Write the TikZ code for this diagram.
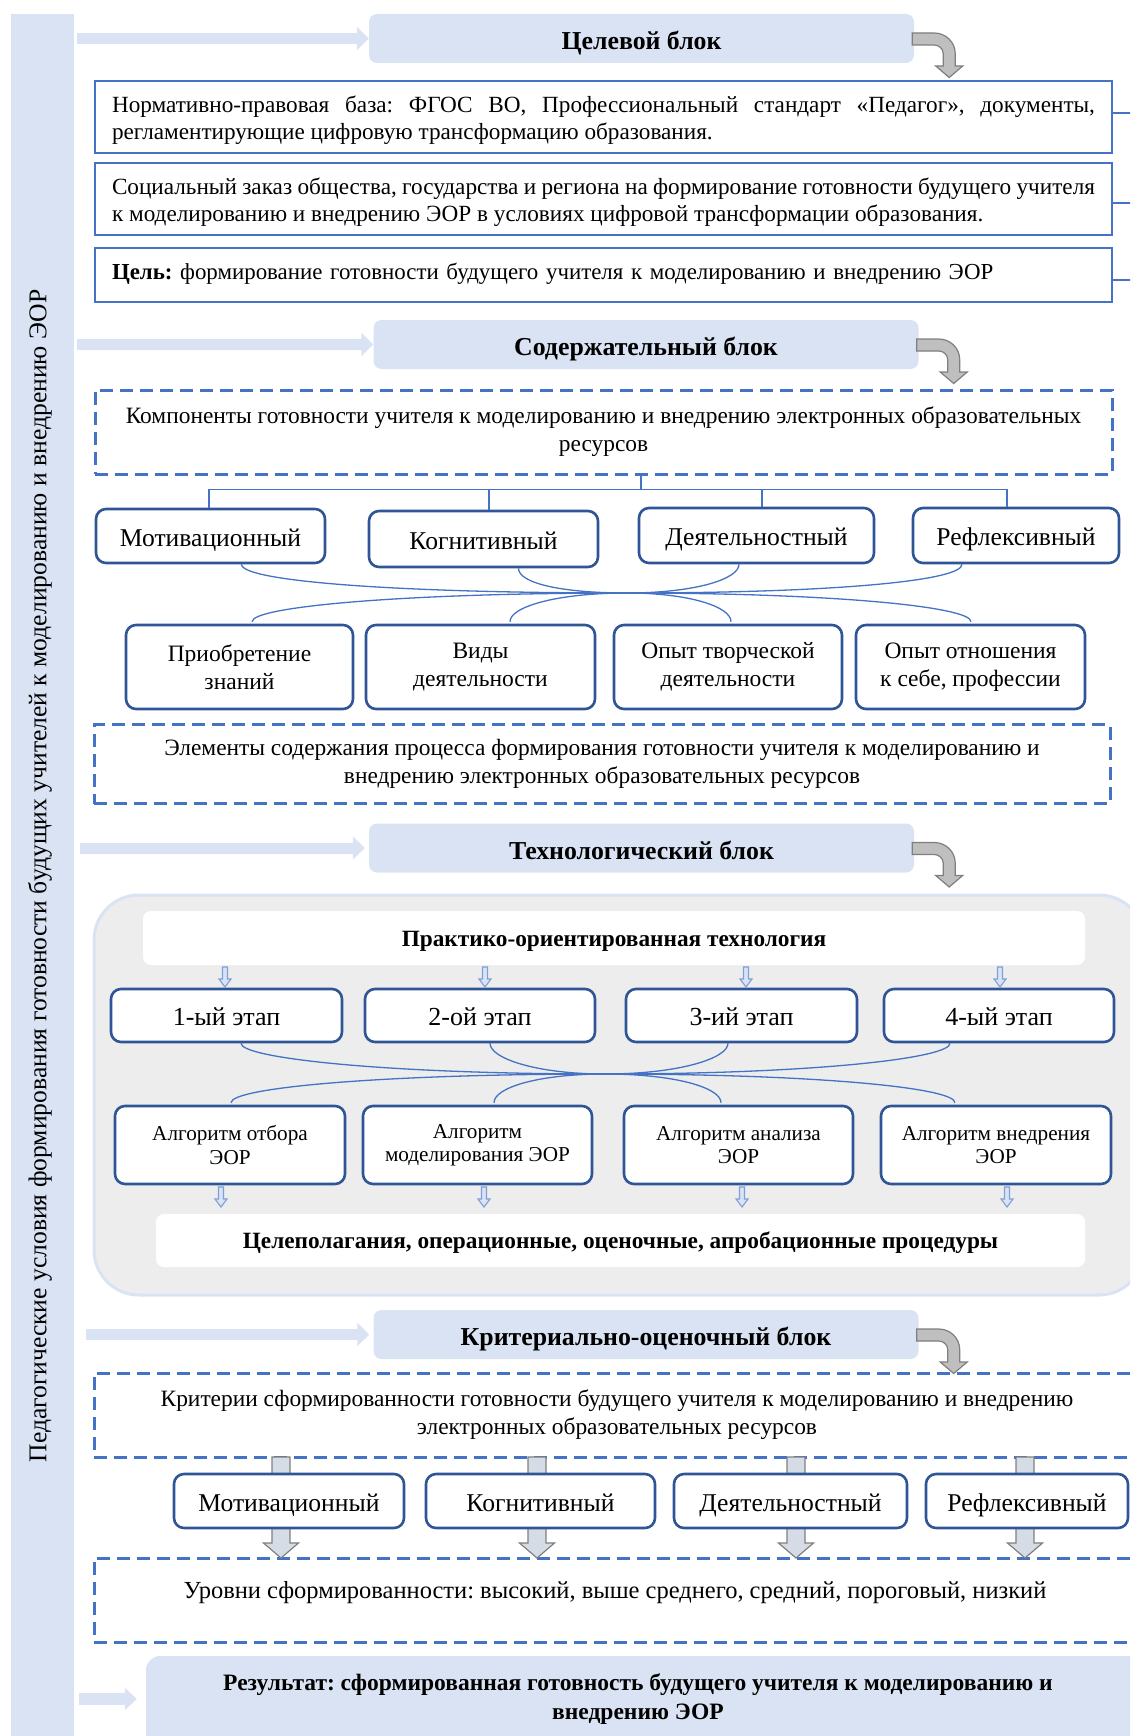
\documentclass[tikz,border=0pt]{standalone}
\usepackage{fontspec}
\setmainfont{Liberation Serif}
\usetikzlibrary{arrows.meta,calc}
\definecolor{pale}{HTML}{DAE3F3}
\definecolor{bord}{HTML}{4472C4}
\definecolor{dblue}{HTML}{2F5597}
\definecolor{panelbg}{HTML}{EDEDED}
\definecolor{garrow}{HTML}{BFBFBF}
\definecolor{garrowline}{HTML}{7F7F7F}
\definecolor{sarrow}{HTML}{7F9FD8}
\definecolor{barrowfill}{HTML}{D6DCE5}
\newcommand\fsz[2]{\fontsize{#1}{#2}\selectfont}
\newcommand\tightsp{\spaceskip=0.25em plus 0.15em minus 0.12em\relax}
\frenchspacing
\tikzset{
  garr/.pic={\filldraw[fill=garrow, draw=garrowline, line width=1.2pt]
     (-2,-5.5) -- (20,-5.5) .. controls (31.6,-5.5) and (41,3.7) .. (41,15) -- (41,27.5) -- (48.5,27.5) -- (35,39)
     -- (21.5,27.5) -- (29,27.5) -- (29,15) .. controls (29,10.3) and (24.7,6.5) .. (20,6.5) -- (-2,6.5) -- cycle;},
  sarr/.pic={\filldraw[fill=pale, draw=sarrow, line width=1.1pt]
     (-2.5,0) -- (2.5,0) -- (2.5,12) -- (6,12) -- (0,20) -- (-6,12) -- (-2.5,12) -- cycle;},
  barr/.pic={\filldraw[fill=barrowfill, draw=garrowline, line width=1.2pt]
     (-9,0) -- (9,0) -- (9,86) -- (17.5,86) -- (0,101) -- (-17.5,86) -- (-9,86) -- cycle;}
}
\begin{document}
\begin{tikzpicture}[x=1pt,y=-1pt,
  hdr/.style={fill=pale, rounded corners=8pt, minimum width=545pt, minimum height=49pt, inner sep=0pt, text height=22pt, text depth=0pt, font=\fsz{25.8}{30}\bfseries},
  thinbox/.style={draw=bord, line width=1.5pt, fill=white, minimum width=1017pt, inner sep=0pt},
  thintext/.style={text width=983pt, inner sep=0pt, align=justify, font=\fsz{23.2}{27}},
  dbox/.style={draw=bord, line width=3pt, dash pattern=on 13pt off 7pt, inner sep=0pt, align=center, font=\fsz{23.4}{28}},
  rbox/.style={draw=dblue, line width=2.6pt, fill=white, rounded corners=10pt, inner sep=0pt, align=center},
  one/.style={font=\fsz{25.6}{30}, text height=20pt, text depth=0pt},
  wbox/.style={fill=white, rounded corners=8pt, inner sep=0pt, text height=16pt, text depth=0pt, font=\fsz{23.3}{27}\bfseries},
  curve/.style={draw=bord, line width=1.3pt},
  tree/.style={draw=bord, line width=1.6pt},
  inarrow/.style={line width=11pt, draw=pale, -{Triangle[length=12pt,width=23pt]}},
]
\useasboundingbox (0,0) rectangle (1130,1736);
\clip (0,0) rectangle (1130,1736);

% left bar
\node[fill=pale, minimum width=63pt, minimum height=1730pt, inner sep=0pt] (bar) at (42.5,879) {};
\node[rotate=90, font=\fsz{25.6}{30}] (bartext) at (40,876) {Педагогические условия формирования готовности будущих учителей к моделированию и внедрению ЭОР};

% headers
\node[hdr] (h1) at (641.5,38.5) {Целевой блок};
\node[hdr] (h2) at (646,344.5) {Содержательный блок};
\node[hdr] (h3) at (641.5,848) {Технологический блок};
\node[hdr] (h4) at (646,1334.5) {Критериально-оценочный блок};

% arrows from bar
\draw[inarrow] ([xshift=3pt]bar.east |- h1.west) -- (h1.west);
\draw[inarrow] ([xshift=3pt]bar.east |- h2.west) -- (h2.west);
\draw[inarrow] ([xshift=6pt]bar.east |- h3.west) -- ([xshift=-4pt]h3.west);
\draw[inarrow] ([xshift=12pt]bar.east |- h4.west) -- ([xshift=-4pt]h4.west);

\pic at (h1.east) {garr};
\pic at (h2.east) {garr};
\pic at (h3.east) {garr};
\pic at (h4.east) {garr};

% target block
\node[thinbox, minimum height=72pt] (b1) at (603.5,117) {};
\node[thintext] (b1t) at (603.5,120) {\tightsp Нормативно-правовая база: ФГОС ВО, Профессиональный стандарт «Педагог», документы,\linebreak регламентирующие цифровую трансформацию образования.};
\node[thinbox, minimum height=72pt] (b2) at (603.5,199) {};
\node[thintext] (b2t) at (603.5,202) {\tightsp Социальный заказ общества, государства и региона на формирование готовности будущего учителя\linebreak к моделированию и внедрению ЭОР в условиях цифровой трансформации образования.};
\node[thinbox, minimum height=54pt] (b3) at (603.5,275) {};
\node[thintext, align=left, font=\fsz{22.9}{27}] (b3t) at (603.5,274) {\textbf{Цель:} формирование готовности будущего учителя к моделированию и внедрению ЭОР};
\draw[bord, line width=1.5pt] ([yshift=4pt]b1.east) -- ++(25,0);
\draw[bord, line width=1.5pt] ([yshift=-4pt]b2.east) -- ++(25,0);
\draw[bord, line width=1.5pt] ([yshift=-5pt]b3.east) -- ++(25,0);

% content block
\node[dbox, minimum width=1017pt, minimum height=84pt] (d1) at (603.5,432) {Компоненты готовности учителя к моделированию и внедрению электронных образовательных\\ресурсов};
\node[rbox, one, minimum width=229pt, minimum height=54pt] (m1) at (210.5,536) {Мотивационный};
\node[rbox, one, minimum width=229pt, minimum height=56pt] (k1) at (483.5,539) {Когнитивный};
\node[rbox, one, minimum width=235pt, minimum height=55pt] (e1) at (756.5,535.5) {Деятельностный};
\node[rbox, one, minimum width=206pt, minimum height=55pt] (r1) at (1016,535.5) {Рефлексивный};

\coordinate (tj) at ($(d1.south)+(37.5,14)$);
\draw[tree] ($(d1.south)+(37.5,0)$) -- (tj);
\draw[tree] ([xshift=-1.5pt]m1.north) |- (tj) -| ([xshift=-9pt]r1.north);
\draw[tree] ([xshift=5.5pt]k1.north) -- ([xshift=5.5pt]k1.north |- tj);
\draw[tree] ([xshift=5.5pt]e1.north) -- ([xshift=5.5pt]e1.north |- tj);

\node[rbox, minimum width=227pt, minimum height=84pt, font=\fsz{23.5}{28}] (p1) at (239.5,667) {Приобретение\\знаний};
\node[rbox, minimum width=229pt, minimum height=84pt, font=\fsz{23.5}{28}] (p2) at (480.5,667) {Виды\\деятельности};
\node[rbox, minimum width=228pt, minimum height=84pt, font=\fsz{23.5}{28}] (p3) at (728,667) {Опыт творческой\\деятельности};
\node[rbox, minimum width=229pt, minimum height=84pt, font=\fsz{23.5}{28}] (p4) at (970.5,667) {Опыт отношения\\к себе, профессии};

\coordinate (cc1) at (627,593);
\draw[curve] ([xshift=31pt]m1.south) .. controls +(0,17) and +(-231,0) .. (cc1);
\draw[curve] ([xshift=35pt]k1.south) .. controls +(0,15) and +(-65,0) .. (cc1);
\draw[curve] ([xshift=-17.5pt]e1.south) .. controls +(0,15) and +(67,0) .. (cc1);
\draw[curve] ([xshift=-54pt]r1.south) .. controls +(0,17) and +(201,0) .. (cc1);
\draw[curve] (cc1) .. controls +(-225,0) and +(0,-15) .. ([xshift=12.5pt, yshift=2pt]p1.north);
\draw[curve] (cc1) .. controls +(-70,0) and +(0,-15) .. ([xshift=29.5pt, yshift=2pt]p2.north);
\draw[curve] (cc1) .. controls +(62,0) and +(0,-15) .. ([xshift=3pt, yshift=2pt]p3.north);
\draw[curve] (cc1) .. controls +(206,0) and +(0,-15) .. ([xshift=0.5pt, yshift=2pt]p4.north);

\node[dbox, minimum width=1016pt, minimum height=79pt] (d2) at (602,764) {Элементы содержания процесса формирования готовности учителя к моделированию и\\внедрению электронных образовательных ресурсов};

% technology block
\node[fill=panelbg, draw=pale, line width=3pt, rounded corners=45pt, minimum width=1050pt, minimum height=400pt, inner sep=0pt] (panel) at (619,1095) {};
\node[wbox, minimum width=942pt, minimum height=54pt] (pt) at (614,938) {Практико-ориентированная технология};
\node[rbox, one, font=\fsz{26}{30}, minimum width=231pt, minimum height=53pt] (s1) at (226.5,1015.5) {1-ый этап};
\node[rbox, one, font=\fsz{26}{30}, minimum width=230pt, minimum height=53pt] (s2) at (480,1015.5) {2-ой этап};
\node[rbox, one, font=\fsz{26}{30}, minimum width=231pt, minimum height=53pt] (s3) at (741.5,1015.5) {3-ий этап};
\node[rbox, one, font=\fsz{26}{30}, minimum width=230pt, minimum height=53pt] (s4) at (999,1015.5) {4-ый этап};
\pic at (225,967) {sarr};
\pic at (485,967) {sarr};
\pic at (746,967) {sarr};
\pic at (1000,967) {sarr};

\node[rbox, minimum width=230pt, minimum height=78pt, font=\fsz{21.2}{23.5}] (a1) at (230,1145) {Алгоритм отбора\\ЭОР};
\node[rbox, minimum width=229pt, minimum height=78pt, font=\fsz{21.2}{23.5}] (a2) at (477.5,1145) {Алгоритм\\моделирования ЭОР};
\node[rbox, minimum width=229pt, minimum height=78pt, font=\fsz{21.2}{23.5}] (a3) at (738.5,1145) {Алгоритм анализа\\ЭОР};
\node[rbox, minimum width=230pt, minimum height=78pt, font=\fsz{21.2}{23.5}] (a4) at (996,1145) {Алгоритм внедрения\\ЭОР};

\coordinate (cc2) at (605,1074);
\draw[curve] ([xshift=14.5pt]s1.south) .. controls +(0,15) and +(-218,0) .. (cc2);
\draw[curve] ([xshift=10pt]s2.south) .. controls +(0,15) and +(-69,0) .. (cc2);
\draw[curve] ([xshift=-13.5pt]s3.south) .. controls +(0,15) and +(74,0) .. (cc2);
\draw[curve] ([xshift=-49pt]s4.south) .. controls +(0,15) and +(207,0) .. (cc2);
\draw[curve] (cc2) .. controls +(-224,0) and +(0,-15) .. ([xshift=1pt, yshift=2pt]a1.north);
\draw[curve] (cc2) .. controls +(-67,0) and +(0,-15) .. ([xshift=16.5pt, yshift=2pt]a2.north);
\draw[curve] (cc2) .. controls +(70,0) and +(0,-15) .. ([xshift=-17.5pt, yshift=2pt]a3.north);
\draw[curve] (cc2) .. controls +(210,0) and +(0,-15) .. ([xshift=-41pt, yshift=2pt]a4.north);

\pic at (221,1187) {sarr};
\pic at (484,1187) {sarr};
\pic at (742,1187) {sarr};
\pic at (1007,1187) {sarr};
\node[wbox, minimum width=929pt, minimum height=53pt] (proc) at (620.5,1240.5) {Целеполагания, операционные, оценочные, апробационные процедуры};

% criteria block
\node[dbox, minimum width=1046pt, minimum height=84pt] (d3) at (617,1415) {Критерии сформированности готовности будущего учителя к моделированию и внедрению\\электронных образовательных ресурсов};
\node[dbox, minimum width=1046pt, minimum height=84pt] (d4) at (617,1600) {};
\node[font=\fsz{24.5}{28}] (d4t) at (615,1593) {Уровни сформированности: высокий, выше среднего, средний, пороговый, низкий};

\pic at (281,1457) {barr};
\pic at (537,1457) {barr};
\pic at (796,1457) {barr};
\pic at (1025,1457) {barr};

\node[rbox, one, minimum width=230pt, minimum height=54pt] (c1) at (289,1501) {Мотивационный};
\node[rbox, one, minimum width=229pt, minimum height=54pt] (c2) at (540.5,1501) {Когнитивный};
\node[rbox, one, minimum width=233pt, minimum height=54pt] (c3) at (790.5,1501) {Деятельностный};
\node[rbox, one, minimum width=202pt, minimum height=54pt] (c4) at (1027,1501) {Рефлексивный};

% result
\node[fill=pale, rounded corners=14pt, minimum width=1000pt, minimum height=100pt, inner sep=0pt] (res) at (646,1706) {};
\node[font=\fsz{23.5}{29}\bfseries, align=center] (rest) at (638,1699) {Результат: сформированная готовность будущего учителя к моделированию и\\внедрению ЭОР};
\draw[line width=12pt, draw=pale, -{Triangle[length=12pt,width=22pt]}] ([xshift=5pt]bar.east |- rest.west) -- ([xshift=-9pt]res.west |- rest.west);
\end{tikzpicture}
\end{document}
